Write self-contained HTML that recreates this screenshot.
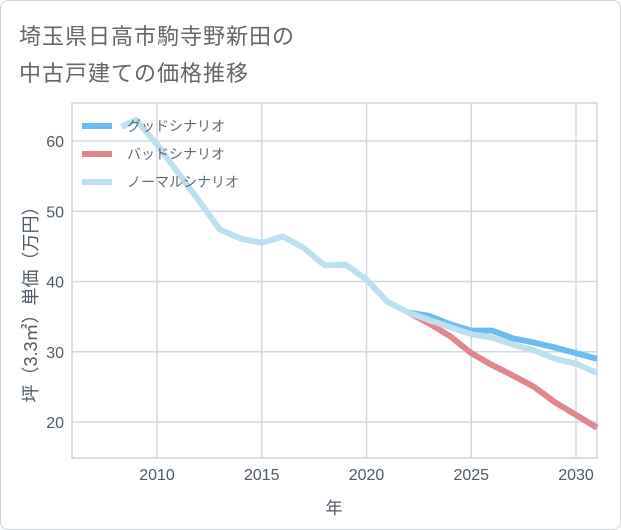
<!DOCTYPE html>
<html><head><meta charset="utf-8"><style>
body{margin:0;background:#fff;}
#wrap{position:relative;width:619px;height:528px;border:1px solid #ccd3d9;border-radius:8px;background:#fff;overflow:hidden;}
.t{position:absolute;left:18px;font-family:"Liberation Sans","Noto Sans CJK JP",sans-serif;font-size:22px;color:#666;letter-spacing:1px}
svg text{font-family:"Liberation Sans","Noto Sans CJK JP",sans-serif;}
</style></head><body>
<div id="wrap">
<div class="t" style="top:18px">埼玉県日高市駒寺野新田の</div>
<div class="t" style="top:55px">中古戸建ての価格推移</div>
<svg id="c" width="621" height="530" style="position:absolute;left:-1px;top:-1px"></svg>
</div>
<script>
const years=[2008.3,2009,2010,2011,2012,2013,2014,2015,2016,2017,2018,2019,2020,2021,2022,2023,2024,2025,2026,2027,2028,2029,2030,2031];
const normal=[62.0,63.0,59.5,55.5,51.5,47.4,46.1,45.5,46.4,44.8,42.3,42.4,40.3,37.1,35.6,34.5,33.5,32.5,32.0,31.0,30.2,29.0,28.3,27.0];
const futYears=[2022,2023,2024,2025,2026,2027,2028,2029,2030,2031];
const good=[35.6,35.1,33.9,33.0,33.0,31.9,31.3,30.6,29.8,29.0];
const bad=[35.6,34.0,32.2,29.8,28.1,26.6,25.0,22.8,21.0,19.2];
const xTicks=[2010,2015,2020,2025,2030];
const yTicks=[20,30,40,50,60];
const L=72,R=597,T=103,B=458;
const x=v=>157+(v-2010)*(576-157)/20;
const y=v=>422-(v-20)*(422-141)/40;
const svg=document.getElementById('c');const NS='http://www.w3.org/2000/svg';
function mk(t,a){const e=document.createElementNS(NS,t);for(const k in a)e.setAttribute(k,a[k]);svg.appendChild(e);return e;}
let e=mk('rect',{x:L,y:T,width:R-L,height:B-T,fill:'#fff',stroke:'#b8c2cc'});


yTicks.forEach(v=>{let g=mk('line',{x1:L,x2:R,y1:y(v),y2:y(v),stroke:'#d0d9e1','stroke-width':1.5});


let t=mk('text',{x:L-8,y:y(v)+6,'text-anchor':'end','font-size':16,fill:'#4f5b66'});t.textContent=v;

});
xTicks.forEach(v=>{let g=mk('line',{x1:x(v),x2:x(v),y1:T,y2:B,stroke:'#d0d9e1','stroke-width':1.5});


let t=mk('text',{x:x(v),y:B+22,'text-anchor':'middle','font-size':16,fill:'#4f5b66'});t.textContent=v;

});
function line(xs,ys,col,name){let p=mk('polyline',{points:xs.map((v,i)=>x(v)+','+y(ys[i])).join(' '),fill:'none',stroke:col,'stroke-width':6,'stroke-linejoin':'round'});

}
line(futYears,bad,'#e0868e','bad-scenario-line');
line(futYears,good,'#6bbcf2','good-scenario-line');
line(years,normal,'#bde0ef','normal-scenario-line');
const leg=[['グッドシナリオ','#6bbcf2'],['バッドシナリオ','#e0868e'],['ノーマルシナリオ','#bde0ef']];
leg.forEach((l,i)=>{let yy=126+i*28;let s=mk('line',{x1:82,x2:112,y1:yy,y2:yy,stroke:l[1],'stroke-width':6});


let t=mk('text',{x:127,y:yy+5,'font-size':14,fill:'#5f6a74'});t.textContent=l[0];

});
let xt=mk('text',{x:334,y:514,'text-anchor':'middle','font-size':17,fill:'#4f5b66'});xt.textContent='年';


let yt=mk('text',{x:0,y:0,'text-anchor':'middle','font-size':18,fill:'#4f5b66',transform:'translate(37,300) rotate(-90)'});yt.textContent='坪（3.3㎡）単価（万円）';


</script>
</body></html>
